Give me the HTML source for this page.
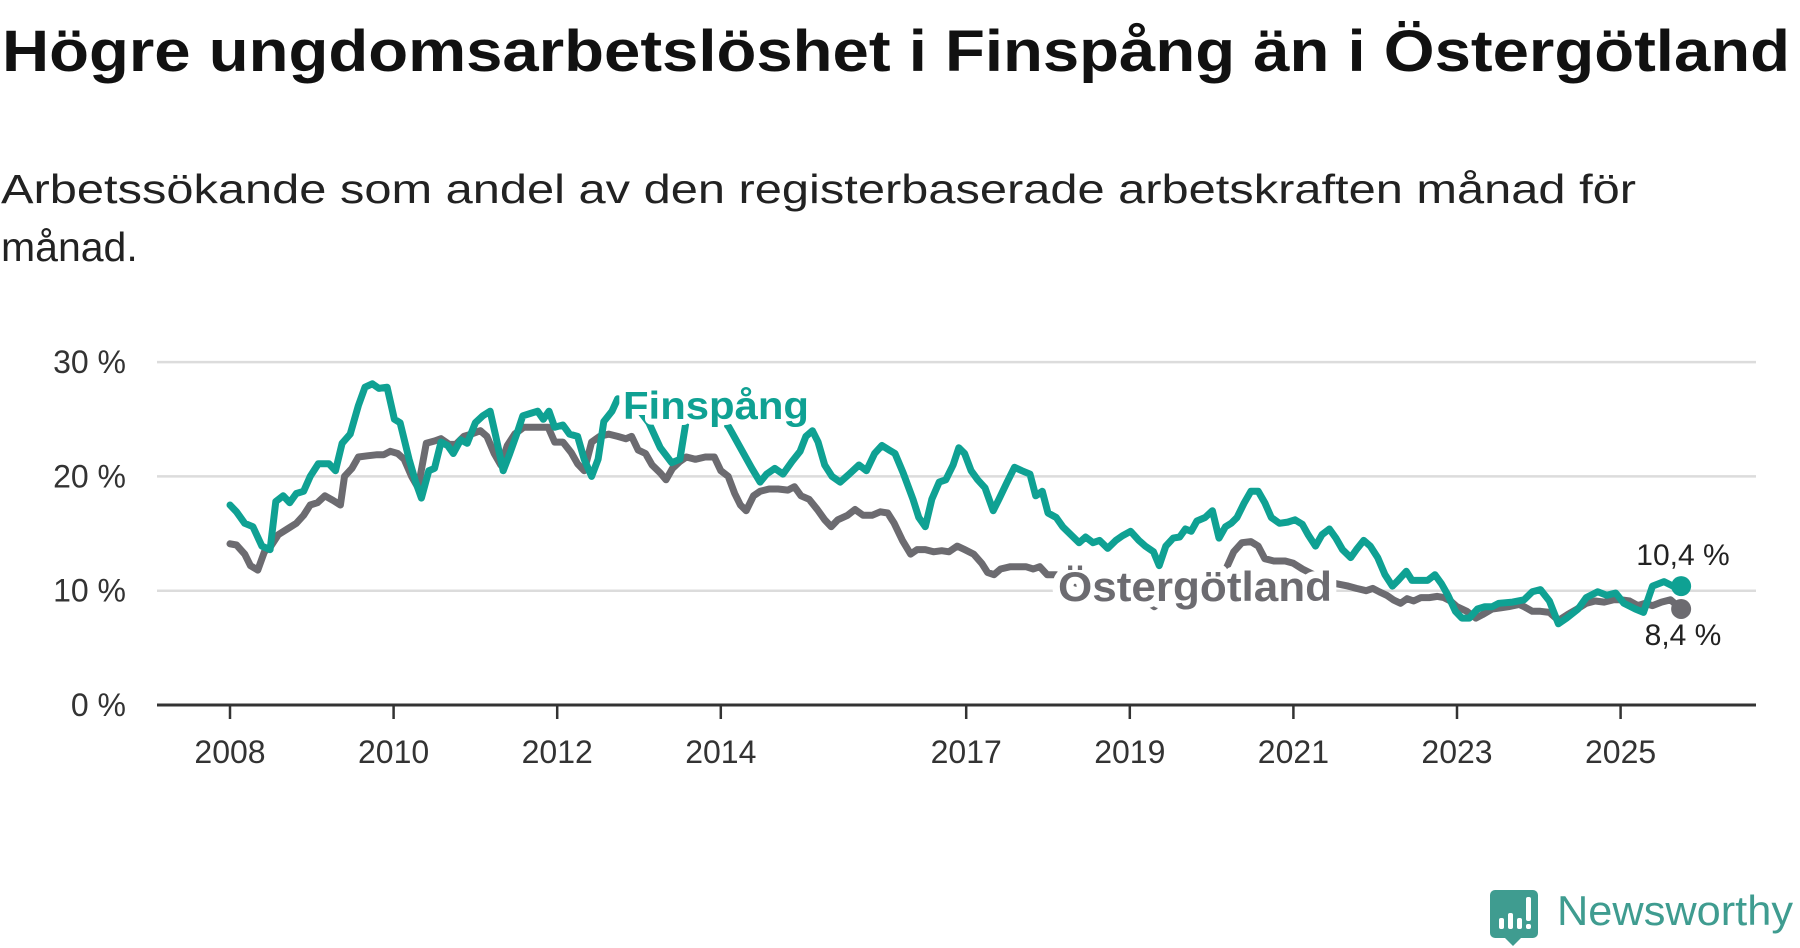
<!DOCTYPE html>
<html><head><meta charset="utf-8"><style>
html,body{margin:0;padding:0;background:#fff;}
svg{display:block;font-family:"Liberation Sans","DejaVu Sans",sans-serif;}
</style></head><body>
<svg id="chart" width="1800" height="948" viewBox="0 0 1800 948" xmlns="http://www.w3.org/2000/svg">
<text x="2" y="71" font-size="58" font-weight="bold" fill="#111" textLength="1788" lengthAdjust="spacingAndGlyphs">Högre ungdomsarbetslöshet i Finspång än i Östergötland</text>
<text x="1" y="203" font-size="41" fill="#222" textLength="1635" lengthAdjust="spacingAndGlyphs">Arbetssökande som andel av den registerbaserade arbetskraften månad för</text>
<text x="1" y="261" font-size="41" fill="#222">månad.</text>
<g id="grid"></g>
<g id="axes"></g>
<g id="series"></g>
<g id="labels"></g>
<g>
<path d="M1495 890 h38 a5 5 0 0 1 5 5 v38 a5 5 0 0 1 -5 5 h-12 l-8 8 l-8 -8 h-10 a5 5 0 0 1 -5 -5 v-38 a5 5 0 0 1 5 -5z" fill="#3f9c90"/>
<rect x="1499" y="918" width="5" height="11" rx="2" fill="#fff"/>
<rect x="1508" y="913" width="5" height="16" rx="2" fill="#fff"/>
<rect x="1517" y="918" width="5" height="11" rx="2" fill="#fff"/>
<rect x="1526" y="897" width="5" height="24" rx="2" fill="#fff"/>
<rect x="1526" y="924" width="5" height="5" rx="2" fill="#fff"/>
<text x="1557" y="925" font-size="42" fill="#3f9c90" textLength="236" lengthAdjust="spacingAndGlyphs">Newsworthy</text>
</g>
</svg>
<script>
const yTicks = [0, 10, 20, 30];
const yTickLabels = ["0 %", "10 %", "20 %", "30 %"];
const xTicks = [2008, 2010, 2012, 2014, 2017, 2019, 2021, 2023, 2025];
const finYears = [0,.08,.18,.28,.39,.49,.56,.65,.73,.81,.90,.98,1.08,1.21,1.29,1.37,1.47,1.57,1.65,1.74,1.82,1.92,2.01,2.08,2.19,2.27,2.34,2.43,2.50,2.58,2.66,2.73,2.82,2.90,3.00,3.09,3.18,3.25,3.34,3.42,3.51,3.58,3.67,3.76,3.83,3.90,3.97,4.07,4.15,4.25,4.33,4.42,4.50,4.57,4.67,4.74,4.84,4.98,5.12,5.26,5.40,5.50,5.58,5.75,5.96,6.10,6.24,6.38,6.48,6.56,6.66,6.76,6.87,6.97,7.04,7.12,7.19,7.27,7.36,7.46,7.57,7.69,7.78,7.88,7.97,8.06,8.13,8.23,8.35,8.42,8.50,8.58,8.67,8.75,8.84,8.91,8.98,9.06,9.14,9.23,9.33,9.40,9.50,9.59,9.68,9.78,9.85,9.93,10.00,10.10,10.18,10.28,10.38,10.46,10.55,10.63,10.73,10.83,10.91,11.01,11.11,11.19,11.29,11.36,11.44,11.53,11.61,11.68,11.75,11.82,11.92,12.01,12.09,12.17,12.24,12.31,12.40,12.48,12.57,12.65,12.73,12.83,12.93,13.02,13.11,13.18,13.27,13.35,13.44,13.52,13.60,13.70,13.77,13.86,13.94,14.03,14.12,14.21,14.28,14.38,14.45,14.54,14.64,14.73,14.81,14.89,14.98,15.06,15.15,15.25,15.34,15.43,15.51,15.68,15.82,15.92,16.02,16.13,16.24,16.34,16.48,16.58,16.72,16.83,16.94,17.04,17.18,17.28,17.39,17.53,17.64,17.74];
const finValues = [17.5,16.9,15.9,15.6,13.9,13.6,17.8,18.3,17.7,18.5,18.7,20.0,21.1,21.1,20.5,22.9,23.7,26.2,27.8,28.1,27.7,27.8,25.0,24.7,21.5,19.5,18.1,20.5,20.7,23.0,22.7,22.0,23.2,22.9,24.7,25.3,25.7,23.5,20.5,22.0,23.8,25.3,25.5,25.7,25.0,25.7,24.3,24.5,23.7,23.5,21.5,20.0,21.5,24.8,25.7,26.8,26.5,26.0,24.7,22.5,21.2,21.5,25.0,26.0,25.5,24.3,22.5,20.7,19.5,20.2,20.7,20.2,21.3,22.2,23.5,24.0,23.0,21.0,20.0,19.5,20.2,21.0,20.5,22.0,22.7,22.3,22.0,20.3,18.0,16.4,15.6,18.0,19.5,19.7,21.0,22.5,22.0,20.5,19.7,19.0,17.0,18.0,19.5,20.8,20.5,20.2,18.3,18.7,16.8,16.4,15.6,14.9,14.2,14.7,14.2,14.4,13.7,14.4,14.8,15.2,14.4,13.9,13.4,12.2,13.9,14.6,14.7,15.4,15.2,16.1,16.4,17.0,14.6,15.6,15.9,16.4,17.7,18.7,18.7,17.7,16.4,15.9,16.0,16.2,15.8,14.9,13.9,14.9,15.4,14.6,13.6,12.9,13.6,14.4,13.9,12.9,11.4,10.4,10.9,11.7,10.9,10.9,10.9,11.4,10.6,9.6,8.2,7.6,7.6,8.4,8.6,8.6,8.9,9.0,9.2,9.9,10.1,9.1,7.1,7.6,8.4,9.4,9.9,9.6,9.8,8.9,8.4,8.1,10.4,10.8,10.4,10.4];
const ostYears = [0,.08,.18,.25,.34,.42,.50,.59,.70,.81,.90,.98,1.07,1.16,1.26,1.35,1.40,1.49,1.57,1.68,1.80,1.88,1.96,2.05,2.13,2.22,2.30,2.40,2.50,2.58,2.68,2.76,2.86,2.95,3.06,3.14,3.23,3.31,3.39,3.48,3.59,3.70,3.79,3.89,3.97,4.07,4.17,4.25,4.33,4.42,4.52,4.63,4.74,4.84,4.91,4.99,5.08,5.16,5.26,5.33,5.41,5.50,5.58,5.69,5.81,5.92,6.00,6.09,6.17,6.24,6.31,6.40,6.48,6.59,6.70,6.82,6.90,6.98,7.08,7.18,7.27,7.35,7.43,7.55,7.64,7.74,7.85,7.95,8.04,8.12,8.22,8.32,8.40,8.50,8.60,8.70,8.79,8.89,8.98,9.09,9.19,9.26,9.34,9.42,9.54,9.64,9.73,9.82,9.90,9.99,10.10,10.24,10.45,10.66,10.87,11.08,11.22,11.30,11.39,11.50,11.64,11.78,11.92,12.06,12.17,12.27,12.37,12.48,12.57,12.65,12.76,12.90,13.00,13.11,13.25,13.39,13.53,13.67,13.77,13.89,13.97,14.05,14.14,14.22,14.31,14.39,14.47,14.56,14.66,14.76,14.84,14.92,15.00,15.12,15.23,15.31,15.43,15.54,15.63,15.76,15.82,15.92,16.02,16.13,16.24,16.35,16.47,16.58,16.69,16.80,16.91,17.01,17.11,17.21,17.30,17.39,17.50,17.61,17.74];
const ostValues = [14.1,14.0,13.2,12.2,11.8,13.4,13.9,14.9,15.4,15.9,16.6,17.5,17.7,18.3,17.9,17.5,20.0,20.7,21.7,21.8,21.9,21.9,22.2,22.0,21.5,20.0,19.0,22.9,23.1,23.3,22.8,22.8,23.5,23.7,24.0,23.5,22.0,21.0,22.7,23.7,24.3,24.3,24.3,24.3,23.0,23.0,22.1,21.1,20.5,23.0,23.5,23.7,23.5,23.3,23.5,22.3,22.0,21.0,20.3,19.7,20.7,21.3,21.7,21.5,21.7,21.7,20.5,20.0,18.5,17.5,17.0,18.3,18.7,18.9,18.9,18.8,19.1,18.3,18.0,17.1,16.2,15.6,16.2,16.6,17.1,16.6,16.6,16.9,16.8,15.9,14.4,13.2,13.6,13.6,13.4,13.5,13.4,13.9,13.6,13.2,12.4,11.6,11.4,11.9,12.1,12.1,12.1,11.9,12.1,11.4,11.4,10.9,10.4,10.2,9.9,9.6,9.0,8.6,9.2,9.8,10.2,10.4,10.9,11.4,11.8,13.4,14.2,14.3,13.9,12.8,12.6,12.6,12.4,11.9,11.4,10.9,10.6,10.4,10.2,10.0,10.2,9.9,9.6,9.2,8.9,9.3,9.1,9.4,9.4,9.5,9.4,9.1,8.6,8.2,7.6,7.9,8.4,8.5,8.6,8.8,8.6,8.2,8.2,8.1,7.4,7.9,8.4,8.9,9.1,9.0,9.2,9.2,9.1,8.7,8.9,8.7,9.0,9.2,8.4];

const NS = "http://www.w3.org/2000/svg";
const X0 = 230, PXYEAR = 81.8, Y0 = 705, PXVAL = 11.43, LEFT = 157, RIGHT = 1756;
function xScale(yearOffset){ return X0 + yearOffset * PXYEAR; }
function yScale(v){ return Y0 - v * PXVAL; }
function mk(tag, attrs, parent){ const e = document.createElementNS(NS, tag); for (const k in attrs) e.setAttribute(k, attrs[k]); parent.appendChild(e); return e; }

const grid = document.getElementById('grid');
const axes = document.getElementById('axes');
const series = document.getElementById('series');
const labels = document.getElementById('labels');

yTicks.forEach((t, i) => {
  if (t > 0) {
    const g = mk('line', {x1: LEFT, x2: RIGHT, y1: yScale(t), y2: yScale(t), stroke: '#dcdcdc', 'stroke-width': 2.5}, grid);
    
    
  }
  const tx = mk('text', {x: 126, y: yScale(t) + 11, 'font-size': 32, fill: '#333', 'text-anchor': 'end'}, axes);
  tx.textContent = yTickLabels[i];
  
  
});

const ax = mk('line', {x1: LEFT, x2: RIGHT, y1: Y0, y2: Y0, stroke: '#333', 'stroke-width': 3}, axes);


xTicks.forEach(yr => {
  const x = xScale(yr - 2008);
  const tk = mk('line', {x1: x, x2: x, y1: Y0, y2: Y0 + 14, stroke: '#333', 'stroke-width': 2.5}, axes);
  
  
  const tl = mk('text', {x: x, y: 763, 'font-size': 32, fill: '#333', 'text-anchor': 'middle'}, axes);
  tl.textContent = String(yr);
  
  
});

function drawLine(years, vals, color, name){
  const d = years.map((t, i) => (i ? 'L' : 'M') + xScale(t).toFixed(1) + ' ' + yScale(vals[i]).toFixed(1)).join(' ');
  const p = mk('path', {d: d, fill: 'none', stroke: color, 'stroke-width': 7, 'stroke-linejoin': 'round', 'stroke-linecap': 'round'}, series);
  
  
  const n = years.length - 1;
  const c = mk('circle', {cx: xScale(years[n]), cy: yScale(vals[n]), r: 10, fill: color}, series);
  
  
}
const GRAY = '#6c6b70', TEAL = '#0fa193';
drawLine(ostYears, ostValues, GRAY, 'ostergotland-line');
drawLine(finYears, finValues, TEAL, 'finspang-line');

function lbl(txt, x, y, color, size, bold, name, halo){
  const t = mk('text', {x: x, y: y, 'font-size': size, fill: color, 'font-weight': bold ? 'bold' : 'normal', stroke: '#fff', 'stroke-width': halo, 'paint-order': 'stroke', 'stroke-linejoin': 'round'}, labels);
  t.textContent = txt;
  
  
  return t;
}
const l1 = lbl('Finspång', 623, 419, TEAL, 39, true, 'finspang-label', 12);
l1.setAttribute('textLength', '186');
l1.setAttribute('lengthAdjust', 'spacingAndGlyphs');
const l2 = lbl('Östergötland', 1058, 601, GRAY, 42, true, 'ostergotland-label', 14);
l2.setAttribute('textLength', '274');
l2.setAttribute('lengthAdjust', 'spacingAndGlyphs');
const fn = finValues.length - 1, on = ostValues.length - 1;
const e1 = lbl(finValues[fn].toFixed(1).replace('.', ',') + ' %', 1683, 565, '#222', 30, false, 'finspang-end-value', 6);
e1.setAttribute('text-anchor', 'middle');
const e2 = lbl(ostValues[on].toFixed(1).replace('.', ',') + ' %', 1683, 645, '#222', 30, false, 'ostergotland-end-value', 6);
e2.setAttribute('text-anchor', 'middle');
</script>
</body></html>
